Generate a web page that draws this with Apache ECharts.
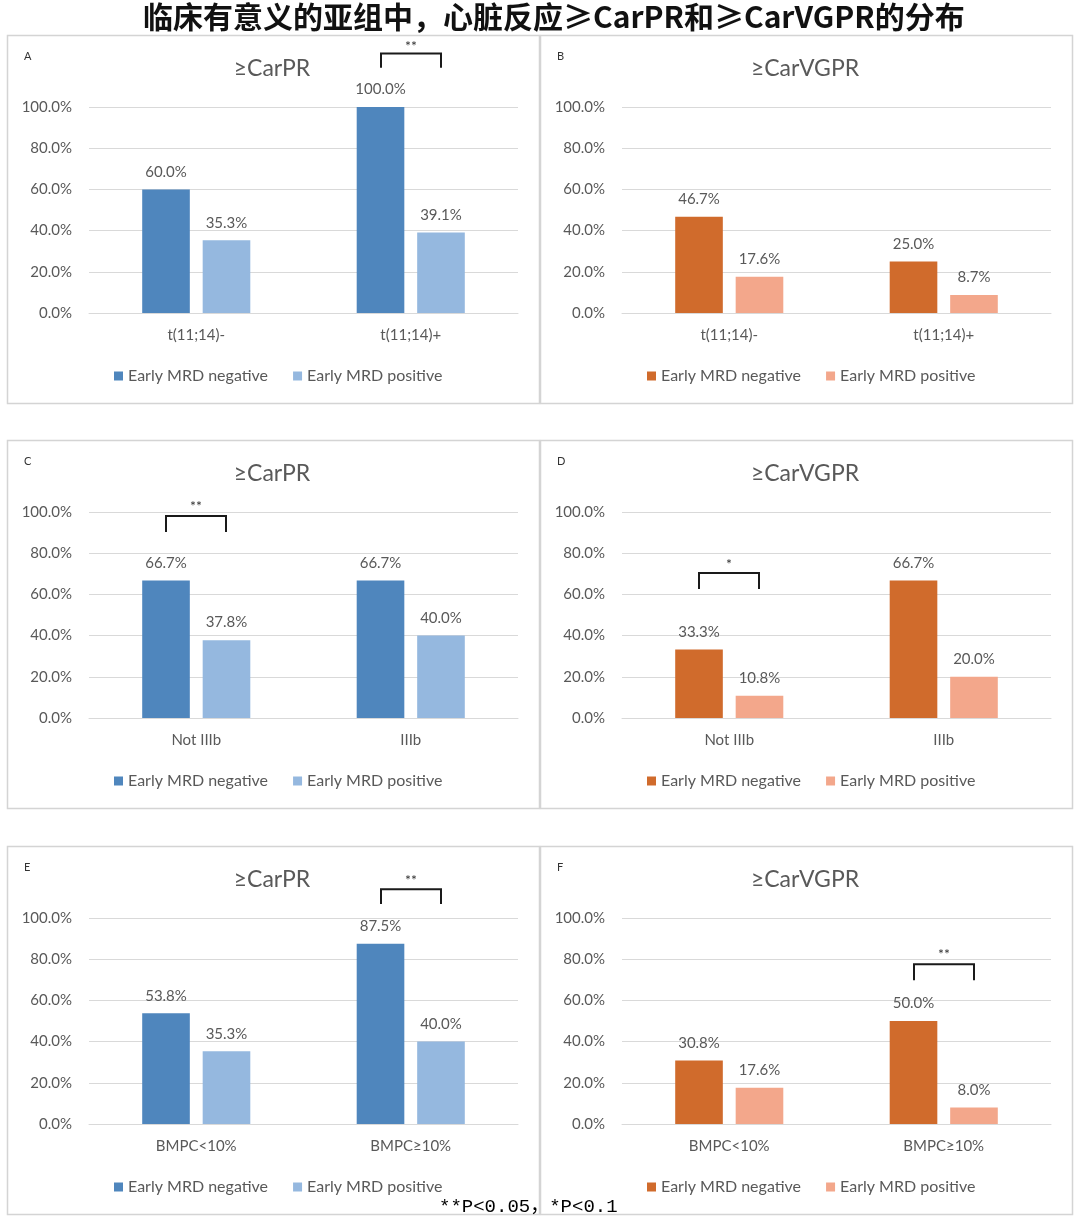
<!DOCTYPE html>
<html>
<head>
<meta charset="utf-8">
<script src="https://cdn.jsdelivr.net/npm/echarts@6/dist/echarts.min.js"></script>
<style>
html,body{margin:0;padding:0;background:#fff;}
#chart{width:1080px;height:1217px;}
</style>
</head>
<body>
<div id="chart"></div>
<script>
// ---- data ----
const mainTitle = '临床有意义的亚组中，心脏反应≥CarPR和≥CarVGPR的分布';
const footnote = '**P<0.05，*P<0.1';
const legendNames = ['Early MRD negative', 'Early MRD positive'];
const yTicks = [0, 20, 40, 60, 80, 100];

const panelLetters = ['A', 'B', 'C', 'D', 'E', 'F'];
const panelTitles = ['≥CarPR', '≥CarVGPR', '≥CarPR', '≥CarVGPR', '≥CarPR', '≥CarVGPR'];

const catsT1114 = ['t(11;14)-', 't(11;14)+'];
const catsIIIb = ['Not IIIb', 'IIIb'];
const catsBMPC = ['BMPC<10%', 'BMPC≥10%'];

const negA = [60.0, 100.0];
const posA = [35.3, 39.1];
const negB = [46.7, 25.0];
const posB = [17.6, 8.7];
const negC = [66.7, 66.7];
const posC = [37.8, 40.0];
const negD = [33.3, 66.7];
const posD = [10.8, 20.0];
const negE = [53.8, 87.5];
const posE = [35.3, 40.0];
const negF = [30.8, 50.0];
const posF = [17.6, 8.0];

// significance brackets: [category index, bracket top %, leg end %, star label %, stars]
const sigA = [[1, 126, 119, 130.5, '**']];
const sigB = [];
const sigC = [[0, 98, 90.3, 103.5, '**']];
const sigD = [[0, 70.4, 62.6, 75.5, '*']];
const sigE = [[1, 114, 106.8, 119, '**']];
const sigF = [[1, 77.6, 69.8, 83.4, '**']];

// ---- layout / style ----
const blueDark = '#4F86BD', blueLight = '#95B8DF';
const orangeDark = '#D06B2C', orangeLight = '#F3A78B';
const textGray = '#595959';
const fontLatin = 'Lato, "Open Sans", sans-serif';

const panels = [
  {cats: catsT1114, neg: negA, pos: posA, sig: sigA, colors: [blueDark, blueLight]},
  {cats: catsT1114, neg: negB, pos: posB, sig: sigB, colors: [orangeDark, orangeLight]},
  {cats: catsIIIb, neg: negC, pos: posC, sig: sigC, colors: [blueDark, blueLight]},
  {cats: catsIIIb, neg: negD, pos: posD, sig: sigD, colors: [orangeDark, orangeLight]},
  {cats: catsBMPC, neg: negE, pos: posE, sig: sigE, colors: [blueDark, blueLight]},
  {cats: catsBMPC, neg: negF, pos: posF, sig: sigF, colors: [orangeDark, orangeLight]}
];
const boxLefts = [7, 540];
const boxTops = [35, 440, 846];
const boxW = 532, boxH = 368;
const BAR_W = 0.222, BAR_GAP = 0.27;

const option = {
  backgroundColor: '#fff',
  animation: false,
  title: [], grid: [], xAxis: [], yAxis: [], legend: [], series: [],
  graphic: []
};

panels.forEach((p, i) => {
  const col = i % 2, row = Math.floor(i / 2);
  const L = boxLefts[col], T = boxTops[row];
  const cx = L + boxW / 2;
  option.graphic.push({
    type: 'rect', z: -10,
    shape: {x: L + 0.5, y: T + 0.5, width: boxW, height: boxH},
    style: {fill: '#fff', stroke: '#d4d4d4', lineWidth: 1.5}
  });
  option.title.push({
    text: panelLetters[i], left: L + 12, top: T + 11,
    textStyle: {fontSize: 11, fontWeight: 'normal', color: '#333', fontFamily: fontLatin}
  });
  option.title.push({
    text: panelTitles[i], left: cx - 6, top: T + 17, textAlign: 'center',
    textStyle: {fontSize: 23, fontWeight: 'normal', color: textGray, fontFamily: fontLatin}
  });
  option.grid.push({left: L + 82, top: T + 72, width: 429, height: 206});
  option.xAxis.push({
    type: 'category', gridIndex: i, data: p.cats,
    axisLine: {show: true, lineStyle: {color: '#d9d9d9'}},
    axisTick: {show: false},
    axisLabel: {fontSize: 15, color: textGray, fontFamily: fontLatin, margin: 15}
  });
  option.yAxis.push({
    type: 'value', gridIndex: i, min: yTicks[0], max: yTicks[yTicks.length - 1], interval: 20,
    axisLine: {show: false}, axisTick: {show: false},
    splitLine: {lineStyle: {color: '#d9d9d9'}},
    axisLabel: {fontSize: 15, color: textGray, fontFamily: fontLatin, margin: 17,
      formatter: v => v.toFixed(1) + '%'}
  });
  const n0 = panelLetters[i] + '|' + legendNames[0];
  const n1 = panelLetters[i] + '|' + legendNames[1];
  option.legend.push({
    data: [n0, n1], left: L + 102, top: T + 328,
    icon: 'rect', itemWidth: 9, itemHeight: 9, itemGap: 25, selectedMode: false,
    formatter: name => name.split('|')[1],
    textStyle: {fontSize: 16, color: textGray, fontFamily: fontLatin}
  });
  const lbl = {show: true, position: 'top', distance: 10, fontSize: 15, color: textGray,
    fontFamily: fontLatin, formatter: d => d.value.toFixed(1) + '%'};
  option.series.push({
    type: 'bar', name: n0, xAxisIndex: i, yAxisIndex: i, data: p.neg,
    barWidth: (BAR_W * 100) + '%', barGap: (BAR_GAP * 100) + '%',
    itemStyle: {color: p.colors[0]}, label: lbl
  });
  option.series.push({
    type: 'bar', name: n1, xAxisIndex: i, yAxisIndex: i, data: p.pos,
    barWidth: (BAR_W * 100) + '%', barGap: (BAR_GAP * 100) + '%',
    itemStyle: {color: p.colors[1]}, label: lbl
  });
  if (p.sig.length) {
    option.series.push({
      type: 'custom', xAxisIndex: i, yAxisIndex: i, clip: false, z: 5,
      data: p.sig,
      renderItem: (params, api) => {
        const idx = api.value(0);
        const band = api.size([1, 0])[0];
        const bw = band * BAR_W, gap = bw * BAR_GAP;
        const off = (bw + gap) / 2;
        const c = api.coord([idx, api.value(1)]);
        const yTop = c[1];
        const yLeg = api.coord([idx, api.value(2)])[1];
        const yStar = api.coord([idx, api.value(3)])[1];
        const x1 = Math.round(c[0] - off), x2 = Math.round(c[0] + off);
        const stars = p.sig[params.dataIndex][4];
        return {
          type: 'group',
          children: [
            {type: 'polyline', shape: {points: [[x1, yLeg], [x1, yTop], [x2, yTop], [x2, yLeg]]},
             style: {stroke: '#1a1a1a', lineWidth: 2, fill: 'none'}},
            {type: 'text', style: {text: stars, x: (x1 + x2) / 2, y: yStar + 2, align: 'center',
              verticalAlign: 'middle', fontSize: 14, fill: '#333', fontFamily: fontLatin}}
          ]
        };
      }
    });
  }
});

option.graphic.push({
  type: 'text', left: 143, top: 2, z: 20,
  style: {text: mainTitle, fontSize: 30, fontWeight: 'bold', fill: '#111',
    fontFamily: '"Noto Sans CJK SC", sans-serif'}
});
option.graphic.push({
  type: 'text', left: 439, top: 1197, z: 20,
  style: {text: footnote, fontSize: 19, fill: '#000',
    fontFamily: '"Liberation Mono", "Noto Sans CJK SC", monospace'}
});

const chart = echarts.init(document.getElementById('chart'), null, {renderer: 'canvas'});
chart.setOption(option);
</script>
</body>
</html>
